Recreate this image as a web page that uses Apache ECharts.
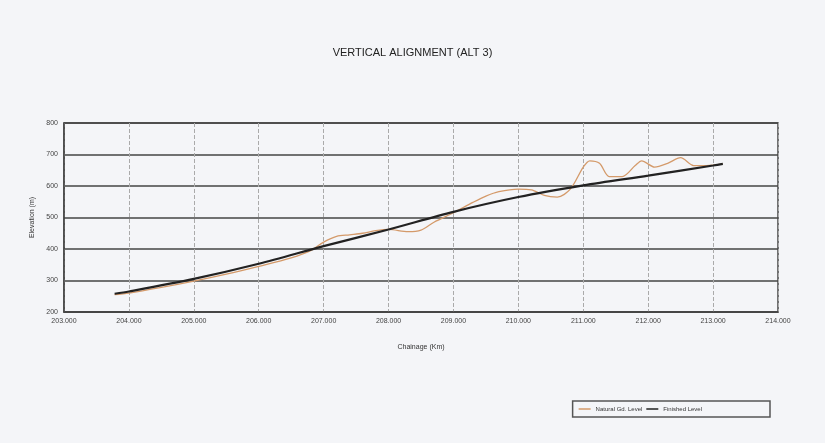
<!doctype html>
<html lang="en">
    <head>
        <meta charset="UTF-8">
        <title>Vertical Alignment (ALT 3)</title>
        <style>
            html, body { margin: 0; padding: 0; background: #f4f5f8; }
        </style>
    </head>
    <body>
        <div id="main" style="width: 825px;height:443px;"></div>
        <script src="https://cdn.jsdelivr.net/npm/echarts@6/dist/echarts.min.js"></script>
        <script type="text/javascript">
        // chainage (km) and levels (m)
        var naturalKm = [203.78, 204.0, 204.5, 205.0, 205.5, 206.0, 206.5, 206.8, 207.0, 207.2, 207.4, 207.6, 207.8, 208.0, 208.3, 208.5, 208.7, 209.0, 209.3, 209.5, 209.7, 210.0, 210.2, 210.4, 210.6, 210.8, 211.0, 211.1, 211.25, 211.4, 211.6, 211.8, 211.9, 212.1, 212.3, 212.5, 212.7, 212.9, 213.15];
        var naturalLevel = [255, 260, 278, 298, 320, 345, 372, 395, 422, 440, 445, 450, 458, 462, 455, 460, 485, 515, 548, 568, 582, 590, 588, 570, 565, 590, 660, 680, 672, 630, 630, 665, 680, 660, 672, 690, 665, 665, 670];
        var finishedKm = [203.78, 204.0, 205.0, 206.0, 207.0, 208.0, 209.0, 210.0, 211.0, 212.0, 213.0, 213.15];
        var finishedLevel = [258, 265, 305, 353, 409, 462, 518, 565, 602, 633, 665, 670];

        function pairs(xs, ys) {
            var out = [];
            for (var i = 0; i < xs.length; i++) {
                out.push([xs[i], ys[i]]);
            }
            return out;
        }

        var myChart = echarts.init(document.getElementById('main'));

        var option = {
            backgroundColor: '#f4f5f8',
            title: {
                text: 'VERTICAL ALIGNMENT (ALT 3)',
                left: 'center',
                top: 42,
                textStyle: { fontFamily: 'Liberation Sans', fontSize: 11, fontWeight: 'normal', color: '#222' }
            },
            legend: {
                right: 55,
                top: 401,
                orient: 'horizontal',
                icon: 'rect',
                itemWidth: 12,
                itemHeight: 1.5,
                itemGap: 4,
                padding: [5, 68, 5, 6],
                borderColor: '#555',
                borderWidth: 1.5,
                textStyle: { fontFamily: 'Liberation Sans', fontSize: 6, color: '#333' },
                data: ['Natural Gd. Level', 'Finished Level']
            },
            grid: {
                left: 64,
                right: 47,
                top: 123,
                bottom: 131,
                show: true,
                borderColor: '#444',
                borderWidth: 1.5
            },
            xAxis: {
                type: 'value',
                min: 203,
                max: 214,
                interval: 1,
                name: 'Chainage (Km)',
                nameLocation: 'middle',
                nameGap: 32,
                nameTextStyle: { fontFamily: 'Liberation Sans', fontSize: 7, color: '#333' },
                axisLine: { lineStyle: { color: '#444', width: 1.5 } },
                axisTick: { show: false },
                axisLabel: {
                    fontFamily: 'Liberation Sans', fontSize: 7, color: '#444', margin: 6,
                    formatter: function (v) { return v.toFixed(3); }
                },
                splitLine: { show: true, lineStyle: { color: '#aaa', type: 'dashed', width: 1 } }
            },
            yAxis: {
                type: 'value',
                min: 200,
                max: 800,
                interval: 100,
                name: 'Elevation (m)',
                nameLocation: 'middle',
                nameGap: 28,
                nameTextStyle: { fontFamily: 'Liberation Sans', fontSize: 7, color: '#333' },
                axisLine: { show: true, lineStyle: { color: '#444', width: 1.5 } },
                axisTick: { show: false },
                axisLabel: { fontFamily: 'Liberation Sans', fontSize: 7, color: '#444', margin: 6 },
                splitLine: { show: true, lineStyle: { color: '#444', width: 1.5 } }
            },
            series: [{
                name: 'Natural Gd. Level',
                type: 'line',
                data: pairs(naturalKm, naturalLevel),
                showSymbol: false,
                smooth: 0.3,
                lineStyle: { color: '#d49a6a', width: 1.3 },
                itemStyle: { color: '#d49a6a' },
                z: 2
            }, {
                name: 'Finished Level',
                type: 'line',
                data: pairs(finishedKm, finishedLevel),
                showSymbol: false,
                smooth: 0.3,
                lineStyle: { color: '#222', width: 2.2 },
                itemStyle: { color: '#222' },
                z: 3
            }]
        };
        myChart.setOption(option);
    </script>
    </body>
</html>
